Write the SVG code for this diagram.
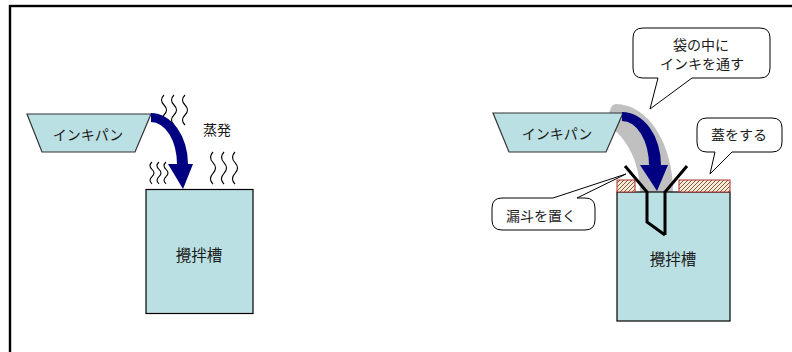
<svg xmlns="http://www.w3.org/2000/svg" width="792" height="352" viewBox="0 0 792 352">
<defs>
<style>
.pan{fill:#BBE0E3;stroke:#333;stroke-width:1.2}
.tank{fill:#BBE0E3;stroke:#000;stroke-width:1.2}
.txt{font-family:"Noto Sans CJK JP","Noto Sans",sans-serif;font-size:14px;fill:#1a1a1a;text-anchor:middle;dominant-baseline:central}
.big{font-size:15.5px}
.steam{fill:none;stroke:#000;stroke-width:1.1}
.flow{fill:#000080}
.lid{fill:url(#hatch);stroke:#B03030;stroke-width:1}
.funnel{fill:none;stroke:#000;stroke-width:3;stroke-linejoin:miter}
.callout{fill:#fff;stroke:#000;stroke-width:1}
</style>
<pattern id="hatch" width="4" height="4" patternUnits="userSpaceOnUse">
<rect width="4" height="4" fill="#F5EBDD"/>
<path d="M-1,1 l2,-2 M0,4 l4,-4 M3,5 l2,-2" stroke="#8B5A2B" stroke-width="1"/>
</pattern>
</defs>
<rect x="0" y="0" width="792" height="352" fill="#fff"/>
<rect x="10" y="6" width="800" height="360" fill="none" stroke="#000" stroke-width="2.4"/>

<!-- Left scene -->
<g id="pan-left">
<polygon class="pan" points="27,114 151,114 135,152 42,152"/>
<text class="txt" x="88" y="134">インキパン</text>
</g>
<g id="tank-left">
<rect class="tank" x="146" y="189.5" width="107" height="124"/>
<text class="txt big" x="199" y="254">攪拌槽</text>
</g>
<g id="steam-left">
<path class="steam" d="M164,95 q-5,5 0,10 t0,10 t0,10 M174,95 q-5,5 0,10 t0,10 t0,10 M185,95 q-5,5 0,10 t0,10 t0,10"/>
<path class="steam" d="M152,162 q-4,3.7 0,7.3 t0,7.3 t0,7.3 M159,162 q-4,3.7 0,7.3 t0,7.3 t0,7.3 M166,162 q-4,3.7 0,7.3 t0,7.3 t0,7.3"/>
<path class="steam" d="M213,152 q-5,5.3 0,10.7 t0,10.7 t0,10.7 M224,152 q-5,5.3 0,10.7 t0,10.7 t0,10.7 M235,152 q-5,5.3 0,10.7 t0,10.7 t0,10.7"/>
<text class="txt" x="217" y="129">蒸発</text>
</g>

<!-- Right scene -->
<g id="bag">
<path d="M616,104 A57 88 0 0 1 673 192 L640,192 C640,170 632,140 606,124 L610,110 Q612,104 616,104 Z" fill="#C0C0C0"/>
</g>
<g id="pan-right">
<polygon class="pan" points="493,113 623,113 606,152 509,152"/>
<text class="txt" x="557" y="133">インキパン</text>
</g>
<g id="tank-right">
<rect class="tank" x="617" y="192" width="113" height="129"/>
<text class="txt big" x="673" y="258">攪拌槽</text>
</g>
<g id="lid">
<rect class="lid" x="617" y="180" width="18" height="12"/>
<rect class="lid" x="679" y="180" width="51" height="12"/>
</g>
<g id="funnel">
<path class="funnel" d="M625,166 L647,192 L647,222 L665,235 M687,166 L665,192 L665,235"/>
</g>

<g id="connectors">
<path class="flow" d="M151,113 A37 51 0 0 1 188 164 L193,164 L183,189 L168,164 L177,164 A26 42 0 0 0 151 122 Z"/>
<path class="flow" d="M622,112 A39 53 0 0 1 661 165 L668,165 L657,191 L640,165 L649,165 A27 44 0 0 0 622 121 Z"/>
</g>

<g id="callout-bag">
<path class="callout" d="M643,28 H760 Q770,28 770,38 V68 Q770,78 760,78 H692 L650,109 L658,78 H643 Q633,78 633,68 V38 Q633,28 643,28 Z"/>
<text class="txt" x="701" y="44">袋の中に</text>
<text class="txt" x="702" y="63">インキを通す</text>
</g>
<g id="callout-lid">
<path class="callout" d="M707,118 H772 Q782,118 782,128 V142 Q782,152 772,152 H732 L710,174 L715,152 H707 Q697,152 697,142 V128 Q697,118 707,118 Z"/>
<text class="txt" x="739" y="134">蓋をする</text>
</g>
<g id="callout-funnel">
<path class="callout" d="M502,198 H553 L626,174 L577,198 H585 Q595,198 595,208 V220 Q595,230 585,230 H502 Q492,230 492,220 V208 Q492,198 502,198 Z"/>
<text class="txt" x="541" y="215">漏斗を置く</text>
</g>
</svg>
